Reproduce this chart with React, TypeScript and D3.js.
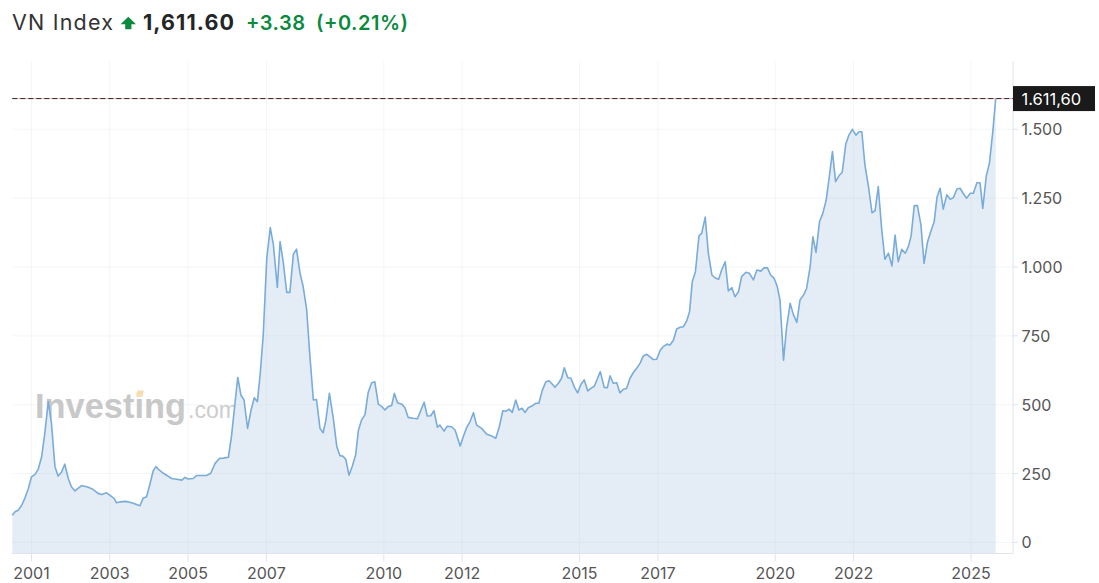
import React from "react";
import * as d3 from "d3";

// ---- Data ----
const years: number[] = [
  2000.51, 2000.58, 2000.66, 2000.75, 2000.83, 2000.92, 2001.0, 2001.09, 2001.17, 2001.26,
  2001.34, 2001.43, 2001.51, 2001.6, 2001.68, 2001.77, 2001.85, 2001.94, 2002.02, 2002.11,
  2002.19, 2002.28, 2002.36, 2002.45, 2002.54, 2002.62, 2002.7, 2002.79, 2002.92, 2003.05,
  2003.11, 2003.17, 2003.26, 2003.41, 2003.56, 2003.77, 2003.85, 2003.94, 2004.03, 2004.11,
  2004.18, 2004.26, 2004.37, 2004.45, 2004.58, 2004.71, 2004.84, 2004.92, 2005.0, 2005.13,
  2005.22, 2005.35, 2005.47, 2005.58, 2005.69, 2005.8, 2005.9, 2006.03, 2006.11, 2006.2,
  2006.27, 2006.35, 2006.43, 2006.52, 2006.61, 2006.69, 2006.77, 2006.84, 2006.92, 2007.01,
  2007.1, 2007.18, 2007.28, 2007.35, 2007.43, 2007.52, 2007.6, 2007.69, 2007.77, 2007.86,
  2007.94, 2008.03, 2008.11, 2008.2, 2008.28, 2008.37, 2008.45, 2008.52, 2008.61, 2008.71,
  2008.8, 2008.88, 2008.96, 2009.03, 2009.11, 2009.19, 2009.28, 2009.35, 2009.43, 2009.52,
  2009.6, 2009.69, 2009.77, 2009.86, 2009.95, 2010.03, 2010.11, 2010.2, 2010.27, 2010.35,
  2010.46, 2010.54, 2010.62, 2010.75, 2010.86, 2010.95, 2011.03, 2011.11, 2011.2, 2011.28,
  2011.37, 2011.43, 2011.54, 2011.62, 2011.73, 2011.82, 2011.95, 2012.03, 2012.12, 2012.2,
  2012.29, 2012.37, 2012.5, 2012.63, 2012.76, 2012.86, 2012.95, 2013.04, 2013.12, 2013.2,
  2013.28, 2013.37, 2013.45, 2013.53, 2013.61, 2013.69, 2013.78, 2013.88, 2013.96, 2014.05,
  2014.14, 2014.22, 2014.3, 2014.37, 2014.46, 2014.54, 2014.61, 2014.7, 2014.78, 2014.87,
  2014.95, 2015.04, 2015.12, 2015.21, 2015.29, 2015.38, 2015.46, 2015.53, 2015.63, 2015.71,
  2015.78, 2015.86, 2015.95, 2016.03, 2016.12, 2016.2, 2016.29, 2016.37, 2016.46, 2016.55,
  2016.63, 2016.72, 2016.8, 2016.88, 2016.97, 2017.06, 2017.14, 2017.23, 2017.31, 2017.4,
  2017.48, 2017.57, 2017.65, 2017.74, 2017.81, 2017.88, 2017.96, 2018.05, 2018.12, 2018.21,
  2018.29, 2018.38, 2018.46, 2018.55, 2018.63, 2018.72, 2018.8, 2018.89, 2018.97, 2019.06,
  2019.14, 2019.25, 2019.34, 2019.44, 2019.53, 2019.63, 2019.71, 2019.8, 2019.88, 2019.97,
  2020.05, 2020.12, 2020.21, 2020.29, 2020.38, 2020.46, 2020.55, 2020.63, 2020.72, 2020.8,
  2020.89, 2020.96, 2021.04, 2021.13, 2021.21, 2021.3, 2021.38, 2021.46, 2021.54, 2021.63,
  2021.71, 2021.8, 2021.88, 2021.97, 2022.06, 2022.14, 2022.21, 2022.29, 2022.38, 2022.47,
  2022.55, 2022.63, 2022.72, 2022.8, 2022.89, 2022.98, 2023.06, 2023.14, 2023.23, 2023.32,
  2023.4, 2023.47, 2023.55, 2023.63, 2023.72, 2023.8, 2023.89, 2023.97, 2024.06, 2024.13,
  2024.21, 2024.29, 2024.38, 2024.47, 2024.55, 2024.64, 2024.72, 2024.81, 2024.89, 2024.98,
  2025.06, 2025.15, 2025.23, 2025.3, 2025.39, 2025.47, 2025.56, 2025.63,
];

const closes: number[] = [
  99, 111, 117, 135, 160, 196, 238, 247, 265, 311,
  396, 511, 432, 275, 241, 256, 284, 232, 202, 187,
  196, 206, 204, 200, 195, 187, 178, 174, 180, 166,
  160, 144, 147, 149, 144, 133, 160, 166, 214, 260,
  275, 263, 251, 244, 232, 229, 226, 236, 230, 232,
  243, 243, 243, 251, 287, 305, 306, 309, 387, 508,
  599, 535, 517, 414, 481, 525, 511, 608, 753, 1032,
  1143, 1080, 926, 1092, 1019, 908, 908, 1047, 1065, 977,
  929, 844, 680, 517, 519, 414, 398, 444, 541, 450,
  347, 315, 313, 301, 244, 275, 317, 406, 444, 464,
  544, 580, 583, 502, 493, 481, 493, 497, 541, 507,
  502, 489, 454, 451, 449, 481, 509, 459, 460, 478,
  418, 426, 404, 422, 420, 408, 350, 384, 418, 438,
  471, 426, 414, 393, 386, 378, 420, 478, 476, 484,
  472, 517, 481, 487, 472, 489, 495, 505, 505, 553,
  583, 587, 575, 563, 578, 596, 634, 598, 596, 563,
  543, 575, 590, 550, 559, 568, 596, 620, 563, 562,
  605, 578, 580, 543, 556, 559, 596, 616, 632, 652,
  677, 683, 674, 664, 665, 698, 711, 720, 717, 735,
  775, 781, 783, 805, 838, 947, 983, 1113, 1122, 1181,
  1050, 971, 961, 955, 989, 1019, 913, 925, 892, 910,
  965, 981, 977, 953, 989, 985, 997, 997, 971, 959,
  929, 880, 662, 783, 868, 828, 799, 880, 898, 922,
  1001, 1110, 1053, 1165, 1193, 1243, 1328, 1419, 1310, 1332,
  1344, 1446, 1479, 1500, 1479, 1491, 1491, 1370, 1292, 1197,
  1205, 1292, 1134, 1028, 1050, 1004, 1116, 1019, 1064, 1050,
  1074, 1113, 1223, 1223, 1153, 1013, 1092, 1128, 1165, 1253,
  1286, 1210, 1262, 1246, 1252, 1283, 1286, 1265, 1250, 1268,
  1268, 1306, 1306, 1213, 1331, 1377, 1498, 1611.6,
];

const yearTicks: number[] = [2001, 2003, 2005, 2007, 2010, 2012, 2015, 2017, 2020, 2022, 2025];
const valueTicks: number[] = [0, 250, 500, 750, 1000, 1250, 1500];

const title = "VN Index";
const lastPrice = "1,611.60";
const change = "+3.38";
const changePct = "(+0.21%)";
const lastValue = 1611.6;

// ---- Layout ----
const W = 1099;
const H = 583;
const plotLeft = 12.3;
const plotRight = 1013;
const dataRight = 995.7;
const plotTop = 61;
const plotBottom = 553.5;

const locale = d3.formatLocale({
  decimal: ",",
  thousands: ".",
  grouping: [3],
  currency: ["", ""],
});
const fmtTick = locale.format(",d");
const fmtLast = locale.format(",.2f");

export default function App() {
  const x = d3
    .scaleLinear()
    .domain([d3.min(years) as number, d3.max(years) as number])
    .range([plotLeft, dataRight]);
  const y = d3.scaleLinear().domain([-40.3, 1748]).range([plotBottom, plotTop]);

  const pts: [number, number][] = years.map((t, i) => [t, closes[i]]);
  const line = d3
    .line<[number, number]>()
    .x((d) => x(d[0]))
    .y((d) => y(d[1]));
  const area = d3
    .area<[number, number]>()
    .x((d) => x(d[0]))
    .y0(plotBottom)
    .y1((d) => y(d[1]));

  const font = "Inter, 'Noto Sans', sans-serif";
  const green = "#0a8a3e";
  const yLast = y(lastValue);

  return (
    <svg
      width={W}
      height={H}
      viewBox={`0 0 ${W} ${H}`}
      style={{ position: "absolute", left: 0, top: 0, background: "#fff" }}
    >
      {/* Header */}
      <g fontFamily={font}>
        <text x={12} y={29.5} fontSize={21.5} fill="#333" textLength={101} lengthAdjust="spacing">
          {title}
        </text>
        <path
          d="M128.3,16.8 L136,24.2 L131.4,24.2 L131.4,29.3 L125.2,29.3 L125.2,24.2 L120.6,24.2 Z"
          fill={green}
        />
        <text x={143} y={29.5} fontSize={21.5} fontWeight={700} fill="#232526" textLength={91} lengthAdjust="spacing">
          {lastPrice}
        </text>
        <text x={246} y={29.5} fontSize={20} fontWeight={600} fill={green} textLength={59} lengthAdjust="spacing">
          {change}
        </text>
        <text x={316} y={29.5} fontSize={20} fontWeight={600} fill={green} textLength={92} lengthAdjust="spacing">
          {changePct}
        </text>
      </g>

      {/* Watermark */}
      <g fill="#c8c8c8" fontFamily="'Liberation Sans', Arial, sans-serif">
        <text x={35} y={418} fontSize={35} fontWeight={700} textLength={151} lengthAdjust="spacingAndGlyphs">
          Investing
        </text>
        <path d="M137.5,390.5 L143.8,390.5 L142.5,396.8 L136.2,396.8 Z" fill="#f7dcae" />
        <text x={188} y={418} fontSize={24} fontWeight={300} fill="#cdcdcd" textLength={50} lengthAdjust="spacingAndGlyphs">
          .com
        </text>
      </g>

      {/* Area */}
      <path d={area(pts) || ""} fill="#e4edf5" />

      {/* Grid */}
      <g stroke="#c9d2dc" strokeOpacity={0.22} strokeWidth={1}>
        {valueTicks.map((v) => (
          <line key={"h" + v} x1={plotLeft} x2={plotRight} y1={y(v)} y2={y(v)} />
        ))}
        {yearTicks.map((t) => (
          <line key={"v" + t} x1={x(t)} x2={x(t)} y1={plotTop} y2={plotBottom} />
        ))}
      </g>

      {/* Line */}
      <path d={line(pts) || ""} fill="none" stroke="#7aacd9" strokeWidth={1.6} strokeLinejoin="round" />

      {/* Axes */}
      <g stroke="#e0e3eb" strokeWidth={1}>
        <line x1={plotLeft} x2={plotRight} y1={plotBottom} y2={plotBottom} />
        <line x1={plotRight} x2={plotRight} y1={plotTop} y2={plotBottom} />
        {yearTicks.map((t) => (
          <line key={"xt" + t} x1={x(t)} x2={x(t)} y1={plotBottom} y2={plotBottom + 8} />
        ))}
        {valueTicks.map((v) => (
          <line key={"yt" + v} x1={plotRight} x2={plotRight + 5} y1={y(v)} y2={y(v)} />
        ))}
      </g>

      <g fontFamily={font} fontSize={16} fill="#555">
        {yearTicks.map((t) => (
          <text key={"xl" + t} x={x(t)} y={578.5} textAnchor="middle">
            {String(t)}
          </text>
        ))}
        {valueTicks.map((v) => (
          <text key={"yl" + v} x={1021.5} y={y(v)} dominantBaseline="central">
            {fmtTick(v)}
          </text>
        ))}
      </g>

      {/* Last price line and label */}
      <line x1={plotLeft} x2={plotRight} y1={yLast} y2={yLast} stroke="#f0868c" strokeWidth={1} strokeOpacity={0.7} />
      <line x1={plotLeft} x2={plotRight} y1={yLast} y2={yLast} stroke="#2a2a2a" strokeWidth={1} strokeDasharray="5 3" />
      <rect x={plotRight} y={yLast - 12.5} width={82} height={25} fill="#1a1a1a" />
      <text
        x={1021.5}
        y={yLast}
        dominantBaseline="central"
        fontFamily={font}
        fontSize={16.5}
        fill="#fff"
      >
        {fmtLast(lastValue)}
      </text>
    </svg>
  );
}
